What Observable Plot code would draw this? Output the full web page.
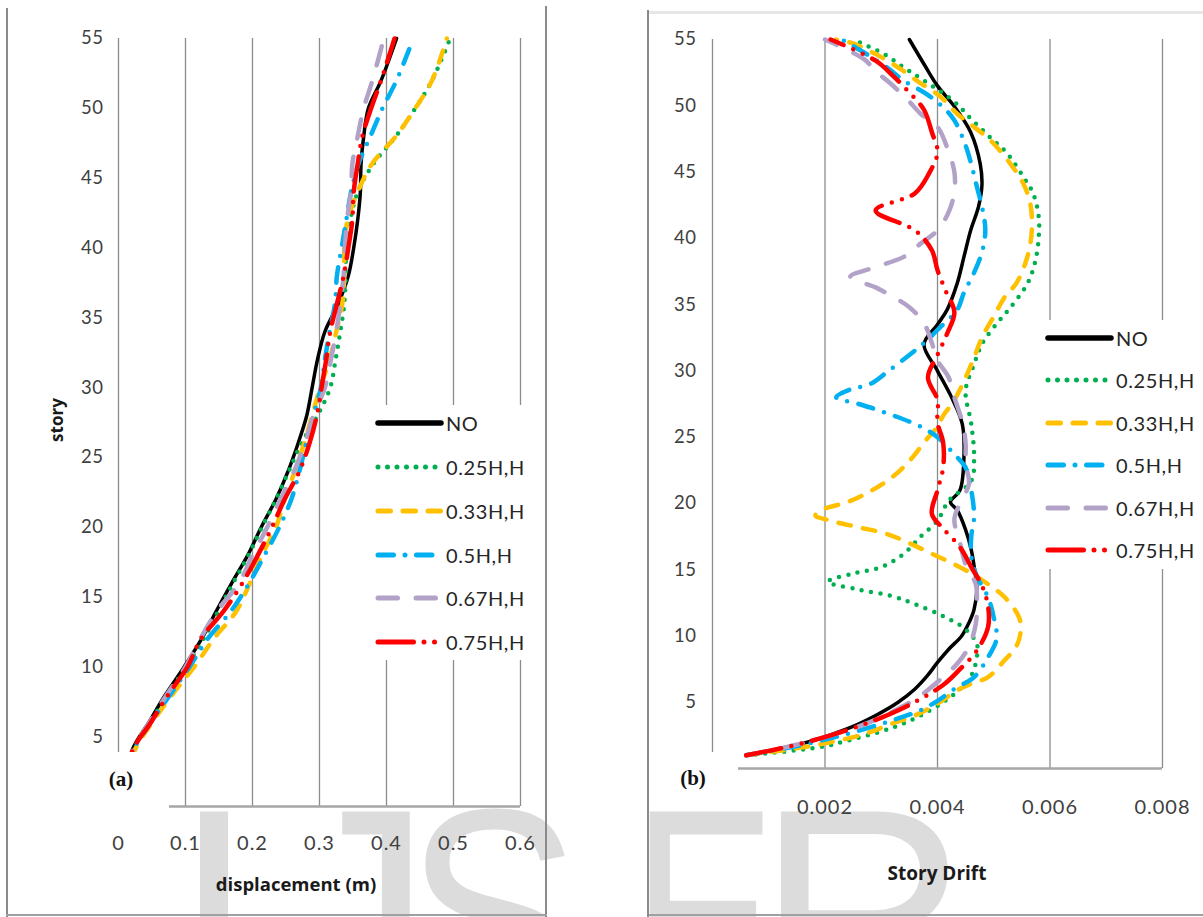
<!DOCTYPE html>
<html><head><meta charset="utf-8">
<script src="https://cdn.jsdelivr.net/npm/d3@7"></script>
<script src="https://cdn.jsdelivr.net/npm/@observablehq/plot@0.6"></script>
<style>
body{margin:0;background:#fff;}
#root{position:relative;width:1203px;height:917px;overflow:hidden;background:#fff;font-family:Lato,"Open Sans",sans-serif;}
.abs{position:absolute;}
.chart{position:absolute;top:0;}
.wbox{position:absolute;background:#fff;}
.ln{position:absolute;background:#8a8a8a;}
.title{position:absolute;font-family:"Open Sans",Lato,sans-serif;font-weight:700;color:#1a1a1a;white-space:nowrap;transform:translate(-50%,-50%);font-size:18.5px;}
.panel{position:absolute;font-family:"Liberation Serif","DejaVu Serif",serif;font-weight:700;font-size:21px;transform:translate(-50%,-50%);color:#111;}
.legtxt{position:absolute;font-size:20px;letter-spacing:0.6px;color:#262626;line-height:24px;white-space:nowrap;}
.chart g[aria-label="x-axis tick label"] text{font-size:20px;letter-spacing:1px;}
.chart g[aria-label="y-axis tick label"] text{font-size:18.5px;letter-spacing:0.5px;}
</style></head>
<body><div id="root">
<svg class="abs" width="1203" height="917" style="left:0;top:0">
  <g fill="#dcdcdc" font-family="Liberation Sans, Arial, sans-serif" font-size="300">
    <text transform="translate(214,1018)" text-anchor="middle">I</text>
    <text transform="translate(432,1018)" text-anchor="end">J</text>
    <text transform="translate(493,1018) scale(0.88,1)" text-anchor="middle">S</text>
    <text transform="translate(632,1018) scale(0.72,1)">E</text>
    <text transform="translate(757,1018) scale(0.98,1)">R</text>
  </g>
</svg>
<div id="left" class="chart" style="left:0"></div>
<div id="right" class="chart" style="left:600px"></div>
</div>
<script>
// ---------- data: panel (a) displacement ----------
const dispStories = [0,4,6,8,10,12,14,16,18,20,22,24,26,28,30,32,34,36,38,40,42,44,46,48,50,52,55];
const dispNO  = [0,0.020,0.045,0.070,0.098,0.124,0.146,0.169,0.193,0.213,0.235,0.253,0.268,0.281,0.289,0.297,0.308,0.328,0.343,0.351,0.357,0.361,0.362,0.366,0.373,0.392,0.415];
const disp025 = [0,0.022,0.047,0.073,0.101,0.127,0.149,0.171,0.194,0.214,0.235,0.254,0.273,0.297,0.316,0.324,0.331,0.337,0.339,0.340,0.346,0.357,0.380,0.414,0.443,0.468,0.495];
const disp033 = [0,0.024,0.050,0.080,0.113,0.142,0.176,0.196,0.214,0.235,0.248,0.263,0.277,0.289,0.301,0.315,0.325,0.334,0.337,0.337,0.342,0.357,0.378,0.414,0.443,0.468,0.490];
const disp05  = [0,0.022,0.048,0.077,0.106,0.133,0.168,0.195,0.218,0.240,0.258,0.270,0.280,0.291,0.302,0.308,0.315,0.323,0.326,0.333,0.340,0.347,0.358,0.376,0.394,0.415,0.440];
const disp067 = [0,0.021,0.046,0.072,0.100,0.122,0.147,0.180,0.200,0.222,0.242,0.262,0.278,0.291,0.308,0.317,0.325,0.331,0.336,0.338,0.341,0.347,0.349,0.357,0.366,0.379,0.396];
const disp075 = [0,0.021,0.048,0.074,0.103,0.123,0.157,0.185,0.208,0.229,0.248,0.270,0.285,0.296,0.303,0.310,0.316,0.326,0.336,0.343,0.349,0.351,0.357,0.364,0.377,0.392,0.412];

// ---------- data: panel (b) story drift, [story, drift] ----------
const driftNO = [[1,0.0006],[2,0.0017],[3,0.0024],[4,0.0029],[5,0.0033],[6,0.0036],[7,0.00382],[8,0.004],[9,0.0042],[10,0.00443],[11,0.00456],[12,0.00465],[13.5,0.0047],[15,0.00466],[16.5,0.0046],[18,0.0045],[19.5,0.00435],[20.1,0.00423],[21,0.0044],[23.5,0.00447],[26,0.00444],[28,0.00425],[30,0.004],[32,0.00376],[33.5,0.004],[34.6,0.00417],[36.6,0.00435],[38.6,0.00447],[40.6,0.00459],[42.4,0.00473],[44,0.00479],[45.6,0.00476],[48,0.00459],[50,0.00429],[51.5,0.004],[53,0.00378],[55,0.0035]];
const drift025 = [[1,0.0006],[1.6,0.0019],[2.1,0.0024],[2.8,0.003],[3.4,0.0034],[4,0.0037],[5,0.0041],[6,0.0044],[7,0.0046],[8.4,0.0047],[9.4,0.0047],[10.5,0.0045],[11.5,0.0041],[12.4,0.0036],[13,0.0032],[13.5,0.0026],[14.1,0.00205],[14.7,0.0025],[15.2,0.003],[16.2,0.0034],[17.5,0.0037],[18.7,0.004],[20.2,0.0042],[21.7,0.0046],[23.5,0.00465],[26,0.0046],[28.5,0.0045],[30.5,0.00465],[32.1,0.0048],[33.6,0.00506],[34.8,0.0053],[36.6,0.0056],[38.3,0.00574],[40.1,0.0058],[41.6,0.0058],[43.4,0.0057],[44.6,0.00553],[46.4,0.00524],[47.6,0.00494],[49,0.0046],[50.3,0.0043],[51.9,0.00376],[52.9,0.0034],[53.9,0.00305],[55,0.0025]];
const drift033 = [[1,0.0006],[1.4,0.0013],[1.9,0.002],[2.6,0.0027],[3.4,0.0032],[4,0.0036],[4.9,0.004],[5.9,0.00435],[6.4,0.0046],[6.9,0.0049],[8.2,0.0052],[9.2,0.0054],[10.4,0.00548],[11.4,0.00545],[12.9,0.0052],[13.9,0.0049],[14.6,0.00465],[15.4,0.0043],[16.2,0.0039],[17,0.0035],[17.7,0.0031],[18.2,0.0026],[18.7,0.0021],[19.1,0.00183],[19.6,0.002],[20.1,0.0024],[20.9,0.0028],[22,0.0032],[23.2,0.0035],[24.8,0.0038],[25.8,0.004],[26.6,0.0041],[27.8,0.0043],[29.5,0.0045],[31,0.00465],[32.6,0.0048],[34.1,0.005],[35.6,0.0052],[36.6,0.0054],[38.1,0.00556],[39.6,0.00565],[41.1,0.00568],[42.6,0.00565],[44.1,0.00553],[45.6,0.0053],[47.4,0.00494],[48.4,0.00465],[49.4,0.00435],[50.7,0.00405],[51.7,0.0037],[52.9,0.0033],[53.9,0.0029],[54.7,0.0025],[55,0.0022]];
const drift05 = [[1,0.0006],[1.7,0.0015],[2.5,0.0023],[3.5,0.0031],[4.4,0.0037],[5.1,0.004],[6,0.0043],[6.9,0.00465],[8.4,0.0049],[9.8,0.00505],[11.4,0.005],[12.9,0.0049],[14.5,0.0047],[16,0.0046],[17.5,0.0046],[19,0.00465],[21,0.0046],[22.7,0.0045],[23.7,0.0043],[25,0.004],[25.8,0.0037],[26.5,0.0033],[27.1,0.0029],[27.5,0.0026],[28,0.0022],[28.6,0.00245],[29,0.0028],[29.9,0.0031],[31.2,0.0035],[32.1,0.00376],[33.3,0.00405],[34.6,0.00435],[35.9,0.00447],[37.5,0.00466],[39.1,0.0048],[40.6,0.00485],[42.2,0.0048],[43.9,0.0047],[45.6,0.0046],[47,0.0045],[48.9,0.0043],[49.9,0.0041],[50.9,0.0038],[51.9,0.0034],[52.9,0.0031],[54,0.0027],[55,0.0023]];
const drift067 = [[1,0.0006],[1.7,0.0014],[2.5,0.0021],[3.5,0.0028],[4.5,0.0033],[5.5,0.0037],[6.9,0.0041],[7.9,0.00435],[9.2,0.00456],[10.9,0.00468],[12.4,0.0047],[13.9,0.00468],[15.4,0.0045],[17,0.0044],[18.8,0.0043],[20,0.0044],[21.5,0.00456],[23,0.0045],[24.5,0.0045],[26,0.00445],[28,0.0043],[29.5,0.0042],[30.8,0.004],[32.1,0.0039],[33.6,0.00376],[34.8,0.0035],[35.6,0.0032],[36.3,0.0029],[37.1,0.00245],[37.7,0.0028],[38.6,0.0034],[39.6,0.0037],[40.6,0.004],[42,0.0042],[43.5,0.0043],[45,0.0043],[46.5,0.0042],[48.4,0.004],[49.4,0.0037],[50.5,0.00346],[51.7,0.00316],[52.6,0.0029],[53.5,0.0027],[55,0.002]];
const drift075 = [[1,0.0006],[1.7,0.0014],[2.5,0.0021],[3.5,0.0028],[4.8,0.0035],[6.3,0.0041],[7.5,0.0044],[8.9,0.0047],[10.7,0.0049],[12.2,0.0049],[13.7,0.0048],[15.2,0.0046],[16.7,0.0044],[18.1,0.0041],[19.2,0.0039],[21,0.004],[22.7,0.0041],[24.6,0.0041],[26.1,0.004],[27.8,0.004],[29.5,0.00383],[31.2,0.004],[32.8,0.00417],[34.4,0.0043],[36,0.00415],[37.6,0.004],[39.1,0.0039],[40.6,0.0036],[42.1,0.0029],[43.4,0.0036],[44.9,0.00385],[46.5,0.004],[48,0.0039],[49.7,0.00376],[51,0.0035],[52.3,0.0032],[53.4,0.0029],[55,0.0021]];

// ---------- labels / ticks ----------
const seriesNames = ["NO","0.25H,H","0.33H,H","0.5H,H","0.67H,H","0.75H,H"];
const storyTicks = [5,10,15,20,25,30,35,40,45,50,55];
const dispTicks = [0,0.1,0.2,0.3,0.4,0.5,0.6];
const driftGrid = [0,0.002,0.004,0.006,0.008];
const driftTicks = [0.002,0.004,0.006,0.008];

// ---------- styles ----------
const seriesColors = ["#000000","#00b050","#ffc000","#00b0f0","#b3a2c7","#ff0000"];
const seriesDash = [null,"0 9.5","12.5 12.5","15.5 11.5 0 11.5","19.5 18.5","35.5 10.5 0 10.5 0 10.5"];
const seriesWidth = [3.5,4.5,4.5,4.5,4.5,4.5];

const dispSeries = [dispNO,disp025,disp033,disp05,disp067,disp075];
const driftSeries = [driftNO,drift025,drift033,drift05,drift067,drift075];

function lineMarks(rowsList){
  return rowsList.map((rows,i)=>Plot.line(rows,{x:"v",y:"s",stroke:seriesColors[i],strokeWidth:seriesWidth[i],
    strokeDasharray:seriesDash[i]||undefined,strokeLinecap:"round",strokeLinejoin:"round",curve:"catmull-rom"}));
}
const baseStyle = {background:"transparent",color:"#404040",fontFamily:"Lato, 'Open Sans', sans-serif",fontSize:"18px",overflow:"visible"};

const dispRows = dispSeries.map(vals=>vals.map((v,j)=>({s:dispStories[j],v})));
const left = Plot.plot({
  width:600,height:917,marginLeft:118,marginRight:80,marginTop:38,marginBottom:111,
  x:{domain:[0,0.6]},y:{domain:[0,55]},style:baseStyle,
  marks:[
    Plot.gridX(dispTicks,{stroke:"#8c8c8c",strokeOpacity:1,strokeWidth:1.3}),
    Plot.ruleY([0],{stroke:"#a6a6a6",strokeWidth:2.5}),
    Plot.axisX({ticks:dispTicks,tickSize:0,tickPadding:29,label:null,tickFormat:d=>String(d)}),
    Plot.axisY({ticks:storyTicks,tickSize:0,tickPadding:15,label:null}),
    ...lineMarks(dispRows)
  ]
});
document.getElementById("left").append(left);

const driftRows = driftSeries.map(p=>p.map(([s,v])=>({s,v})));
const right = Plot.plot({
  width:603,height:917,marginLeft:112,marginRight:41,marginTop:39,marginBottom:149,
  x:{domain:[0,0.008]},y:{domain:[0,55]},style:baseStyle,
  marks:[
    Plot.gridX(driftGrid,{stroke:"#8c8c8c",strokeOpacity:1,strokeWidth:1.3}),
    Plot.ruleY([0],{stroke:"#a6a6a6",strokeWidth:2.5}),
    Plot.axisX({ticks:driftTicks,tickSize:0,tickPadding:31,label:null,tickFormat:d=>String(d)}),
    Plot.axisY({ticks:storyTicks,tickSize:0,tickPadding:16,label:null}),
    ...lineMarks(driftRows)
  ]
});
document.getElementById("right").append(right);

// ---------- overlays (layout) ----------
const root = document.getElementById("root");
function box(cls,l,t,w,h,extra){const d=document.createElement("div");d.className=cls;Object.assign(d.style,{left:l+"px",top:t+"px",width:w+"px",height:h+"px"},extra||{});root.append(d);return d;}
function txt(cls,l,t,s,extra){const d=document.createElement("div");d.className=cls;d.textContent=s;Object.assign(d.style,{left:l+"px",top:t+"px"},extra||{});root.append(d);return d;}

// white patches
box("wbox",60,752,109,66);
box("wbox",655,752,83,50);
box("wbox",368,405,162,255);
box("wbox",1040,320,163,249);
// frames
box("ln",6,8,2,909);
box("ln",545,6,2,911);
box("ln",6,914,541,2,{background:"#a0a0a0"});
box("ln",647,10,2,907);
box("ln",649,11,554,3,{background:"#e6e6e6"});
box("ln",649,914,554,2,{background:"#a0a0a0"});
// titles
txt("title",296,883,"displacement (m)");
txt("title",937,873,"Story Drift",{fontSize:"19px"});
txt("title",56,420,"story",{transform:"translate(-50%,-50%) rotate(-90deg)",fontSize:"17px"});
txt("panel",121,779,"(a)");
txt("panel",693,778,"(b)");

// legends
function legend(lineX, textX, ys){
  seriesNames.forEach((name,i)=>{
    const s=document.createElementNS("http://www.w3.org/2000/svg","svg");
    s.setAttribute("width",72);s.setAttribute("height",20);
    s.style.position="absolute";s.style.left=(lineX-3)+"px";s.style.top=(ys[i]-10)+"px";
    const l=document.createElementNS("http://www.w3.org/2000/svg","line");
    l.setAttribute("x1",3);l.setAttribute("x2",66);l.setAttribute("y1",10);l.setAttribute("y2",10);
    l.setAttribute("stroke",seriesColors[i]);l.setAttribute("stroke-width",i===0?5.5:5);
    l.setAttribute("stroke-linecap","round");
    if(seriesDash[i]) l.setAttribute("stroke-dasharray",seriesDash[i]);
    s.append(l);root.append(s);
    txt("legtxt",textX,ys[i]-12,name);
  });
}
legend(378,446,[423,467,511,555,598,642]);
legend(1048,1116,[338,380,423,465,508,550]);
</script>
</body></html>
